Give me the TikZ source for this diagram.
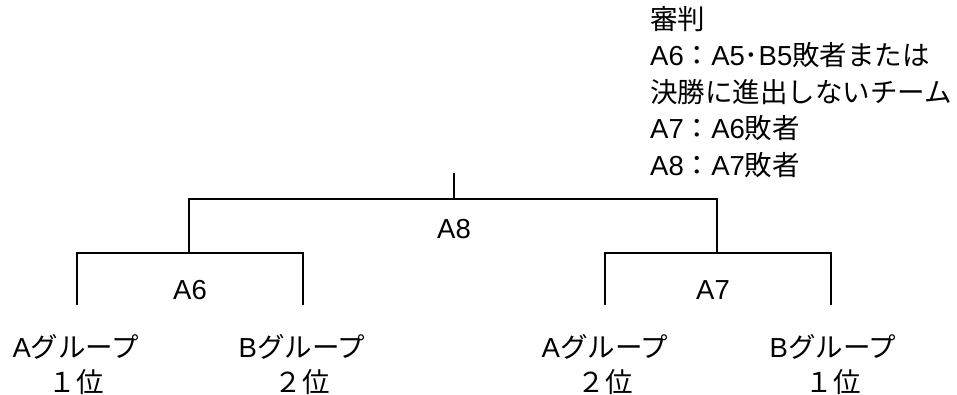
\documentclass[tikz,border=0pt]{standalone}
\usepackage{fontspec}
\setmainfont{Liberation Sans}
\newfontfamily\jp{Noto Sans CJK JP}
\begin{document}
\begin{tikzpicture}[x=1pt,y=-1pt,
  wire/.style={line width=2.6pt, line join=miter},
  lbl/.style={font=\fontsize{27.5}{35}\selectfont, inner sep=0pt, align=center},
  note/.style={font=\fontsize{27.5}{36.5}\selectfont, inner sep=0pt, align=left, anchor=north west}]
\useasboundingbox (0,0) rectangle (957,394);
% coordinates
\coordinate (l1b) at (77,305);
\coordinate (l1t) at (77,253);
\coordinate (l2b) at (303,305);
\coordinate (l2t) at (303,253);
\coordinate (m6b) at (189,253);
\coordinate (m6t) at (189,199);
\coordinate (r1b) at (605,305);
\coordinate (r1t) at (605,253);
\coordinate (r2b) at (831,305);
\coordinate (r2t) at (831,253);
\coordinate (m7b) at (717,253);
\coordinate (m7t) at (717,199);
\coordinate (fb) at (454,199);
\coordinate (ft) at (454,173);
% brackets
\draw[wire] (l1b) -- (l1t) -- (l2t) -- (l2b);
\draw[wire] (m6b) -- (m6t) -- (m7t) -- (m7b);
\draw[wire] (r1b) -- (r1t) -- (r2t) -- (r2b);
\draw[wire] (fb) -- (ft);
% match labels
\node[lbl] (a8) at (454,229) {A8};
\node[lbl] (a6) at (190,290) {A6};
\node[lbl] (a7) at (713,290) {A7};
% team labels
\node[lbl] (t1) at (76,364) {A{\jp グループ}\\{\jp １位}};
\node[lbl] (t2) at (302,364) {B{\jp グループ}\\{\jp ２位}};
\node[lbl] (t3) at (605,364) {A{\jp グループ}\\{\jp ２位}};
\node[lbl] (t4) at (833,364) {B{\jp グループ}\\{\jp １位}};
% referee note
\node[note] (ref) at (650,6) {{\jp 審判}\\A6{\jp ：}A5{\jp ･}B5{\jp 敗者または}\\{\jp 決勝に進出しないチーム}\\A7{\jp ：}A6{\jp 敗者}\\A8{\jp ：}A7{\jp 敗者}};
\end{tikzpicture}
\end{document}
